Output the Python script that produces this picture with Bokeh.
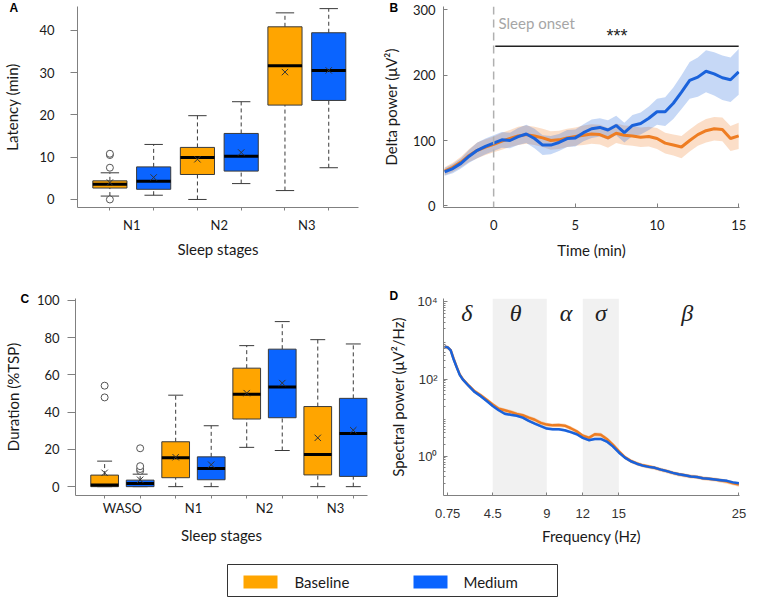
import numpy as np
from bokeh.plotting import figure
from bokeh.layouts import column, row
from bokeh.models import FixedTicker, Span, BoxAnnotation, ColumnDataSource, Title
from bokeh.core.properties import value
from bokeh.embed import file_html
from bokeh.resources import INLINE

FONT = "Lato"
NUMFONT = "Liberation Sans"
ORANGE = "#FFA500"
BLUE = "#0A64FF"
LORANGE = "#EE7D22"
LBLUE = "#1A62DB"
EDGE = "#3a3a3a"
AXIS = "#808080"
TXT = "#1a1a1a"

# ---------------- Panel A: latency (min) ----------------
lat_stages = ["N1", "N2", "N3"]
lat_base_low = [0.8, 0.0, 2.1]
lat_base_q1 = [2.7, 5.9, 22.3]
lat_base_med = [3.6, 9.9, 31.6]
lat_base_q3 = [4.4, 12.3, 40.8]
lat_base_high = [6.3, 19.8, 44.1]
lat_base_mean = [4.0, 9.5, 30.1]
lat_base_out = [[0.0, 7.5, 10.5, 10.8], [], []]
lat_med_low = [1.0, 3.75, 7.5]
lat_med_q1 = [2.4, 6.7, 23.4]
lat_med_med = [4.3, 10.2, 30.5]
lat_med_q3 = [7.7, 15.6, 39.4]
lat_med_high = [13.0, 23.1, 45.1]
lat_med_mean = [5.2, 11.1, 30.5]
lat_med_out = [[], [], []]

# ---------------- Panel C: duration (%TSP) ----------------
dur_stages = ["WASO", "N1", "N2", "N3"]
dur_base_low = [0.0, 0.0, 21.1, 0.0]
dur_base_q1 = [0.0, 4.8, 36.3, 6.3]
dur_base_med = [0.9, 15.5, 49.6, 17.3]
dur_base_q3 = [6.2, 24.1, 63.6, 43.0]
dur_base_high = [13.7, 49.1, 75.7, 78.9]
dur_base_mean = [7.4, 15.8, 50.2, 26.2]
dur_base_out = [[47.9, 54.2], [], [], []]
dur_med_low = [0.0, 0.0, 19.4, 0.0]
dur_med_q1 = [0.0, 3.7, 37.0, 5.5]
dur_med_med = [1.7, 9.7, 53.5, 28.5]
dur_med_q3 = [3.5, 16.0, 73.8, 47.4]
dur_med_high = [6.7, 32.7, 88.6, 76.6]
dur_med_mean = [3.7, 11.8, 55.6, 30.3]
dur_med_out = [[8.5, 9.5, 11.0, 20.6], [], [], []]

# ---------------- Panel B: delta power over time ----------------
time_min = [-3, -2.5, -2, -1.5, -1, -0.5, 0, 0.5, 1, 1.5, 2, 2.5, 3, 3.5, 4, 4.5, 5,
            5.5, 6, 6.5, 7, 7.5, 8, 8.5, 9, 9.5, 10, 10.5, 11, 11.5, 12, 12.5, 13,
            13.5, 14, 14.5, 15]
delta_base = [53, 59, 67, 77, 85, 90, 94, 99, 103, 107, 109, 107, 104, 100, 101, 104, 106,
              108, 110, 109, 104, 111, 108, 107, 105, 106, 103, 96, 93, 90, 100, 109, 115,
              118, 117, 103, 107]
delta_base_sem = [6, 7, 8, 10, 12, 12, 12, 13, 13, 14, 14, 14, 14, 14, 14, 14, 14,
                  15, 15, 15, 15, 15, 15, 15, 15, 15, 16, 16, 16, 17, 17, 17, 18,
                  18, 18, 19, 20]
delta_med = [52, 57, 65, 76, 85, 91, 96, 101, 100, 106, 110, 103, 93, 93, 97, 103, 104,
             112, 118, 120, 116, 123, 112, 123, 126, 134, 144, 144, 157, 174, 192, 197, 206,
             202, 196, 193, 205]
delta_med_sem = [6, 7, 8, 10, 12, 12, 12, 12, 12, 13, 14, 15, 15, 14, 13, 13, 13,
                 13, 14, 14, 15, 15, 15, 16, 17, 18, 20, 22, 24, 26, 28, 30, 32,
                 33, 34, 34, 35]
sig_start, sig_end, sig_level = 0.1, 15.0, 244

# ---------------- Panel D: spectral power ----------------
freq_hz = [0.5, 0.75, 1.0, 1.25, 1.5, 1.75, 2.0, 2.5, 3.0, 3.5, 4.0, 4.5, 5.0, 5.5, 6.0,
           6.5, 7.0, 7.5, 8.0, 8.5, 9.0, 9.5, 10.0, 10.5, 11.0, 11.5, 12.0, 12.5, 13.0,
           13.5, 14.0, 14.5, 15.0, 15.5, 16.0, 16.5, 17.0, 17.5, 18.0, 18.5, 19.0, 19.5,
           20.0, 20.5, 21.0, 21.5, 22.0, 22.5, 23.0, 23.5, 24.0, 24.5, 25.0]
spec_base = [690, 660, 560, 330, 205, 132, 100, 68, 48, 38, 29, 22, 17, 15.5, 14,
             12.5, 11.5, 10, 8.8, 7.3, 6.6, 6.3, 6.4, 6.2, 5.3, 4.4, 3.4, 3.0, 3.7,
             3.6, 2.8, 2.0, 1.35, 0.95, 0.76, 0.65, 0.58, 0.54, 0.5, 0.45, 0.41, 0.37,
             0.34, 0.32, 0.30, 0.29, 0.27, 0.26, 0.25, 0.235, 0.22, 0.2, 0.185]
spec_med = [690, 660, 550, 320, 200, 128, 98, 66, 46, 36, 27, 20, 15.5, 12.6, 11.8,
            11.2, 10, 8.2, 7, 6, 5.2, 5.0, 5.0, 4.7, 4.2, 3.7, 3.0, 2.6, 2.8,
            2.8, 2.4, 1.8, 1.25, 0.92, 0.74, 0.64, 0.57, 0.53, 0.5, 0.45, 0.41, 0.37,
            0.34, 0.32, 0.30, 0.29, 0.27, 0.26, 0.25, 0.24, 0.23, 0.21, 0.2]
spec_base_relerr = 0.12
spec_med_relerr = 0.08
band_names = ["δ", "θ", "α", "σ", "β"]
band_label_x = [2.35, 6.4, 10.6, 13.5, 20.7]
shaded_bands = [(4.5, 9.0), (12.0, 15.0)]

legend_names = ["Baseline", "Medium"]
panel_letters = ["A", "B", "C", "D"]


def mkfig(w, h, l, r, t, b, **kw):
    return figure(width=w, height=h, output_backend="svg", toolbar_location=None,
                  min_border_left=l, min_border_right=r, min_border_top=t,
                  min_border_bottom=b, **kw)


def style(p):
    p.outline_line_color = None
    p.grid.visible = False
    for ax in p.axis:
        ax.axis_line_color = AXIS
        ax.major_tick_line_color = AXIS
        ax.minor_tick_line_color = None
        ax.major_label_text_font = FONT
        ax.axis_label_text_font = FONT
        ax.axis_label_text_font_style = "normal"
        ax.major_label_text_color = TXT
        ax.axis_label_text_color = TXT
        ax.major_label_text_font_size = "13px"
        ax.axis_label_text_font_size = "15px"


def letter(p, txt, offset, standoff):
    p.title = Title(text=txt, align="left", offset=offset, standoff=standoff,
                    vertical_align="bottom", text_font=NUMFONT, text_font_style="bold",
                    text_font_size="12px", text_color="black")


def boxes(p, pos, low, q1, med, q3, high, mean, outs, color, w=0.39, capw=0.21):
    pos = np.asarray(pos, dtype=float)
    src = ColumnDataSource(dict(x=pos, xl=pos - w / 2, xr=pos + w / 2,
                                cl=pos - capw / 2, cr=pos + capw / 2,
                                low=low, q1=q1, med=med, q3=q3, high=high, mean=mean))
    p.segment(x0="x", y0="q3", x1="x", y1="high", source=src, line_color=EDGE,
              line_width=1, line_dash="4 3")
    p.segment(x0="x", y0="low", x1="x", y1="q1", source=src, line_color=EDGE,
              line_width=1, line_dash="4 3")
    p.segment(x0="cl", y0="high", x1="cr", y1="high", source=src, line_color=EDGE, line_width=1)
    p.segment(x0="cl", y0="low", x1="cr", y1="low", source=src, line_color=EDGE, line_width=1)
    p.quad(left="xl", right="xr", bottom="q1", top="q3", source=src, fill_color=color,
           line_color=EDGE, line_width=1)
    p.segment(x0="xl", y0="med", x1="xr", y1="med", source=src, line_color="black", line_width=3)
    p.scatter(x="x", y="mean", source=src, marker="x", size=9, line_color="#333333", line_width=1)
    ox = [pos[i] for i, o in enumerate(outs) for _ in o]
    oy = [v for o in outs for v in o]
    if ox:
        p.scatter(ox, oy, marker="circle", size=7, fill_color="white", line_color="#555555",
                  line_width=1)


def box_panel(stages, xr, yr, yticks, ylabel, data_b, data_m, dims, ytick, ystand, ylabstand,
              xstand, xlabstand):
    p = mkfig(*dims, x_range=xr, y_range=yr)
    style(p)
    idx = np.arange(1, len(stages) + 1)
    bx = idx - 0.25
    mx = idx + 0.25
    boxes(p, bx, *data_b, ORANGE)
    boxes(p, mx, *data_m, BLUE)
    p.xaxis.ticker = FixedTicker(ticks=list(idx), minor_ticks=sorted(list(bx) + list(mx)))
    p.xaxis.major_label_overrides = {int(i): s for i, s in zip(idx, stages)}
    p.xaxis.major_tick_out = 0
    p.xaxis.major_tick_in = 0
    p.xaxis.minor_tick_line_color = AXIS
    p.xaxis.minor_tick_out = 3
    p.xaxis.minor_tick_in = 0
    p.xaxis.major_label_standoff = xstand
    p.xaxis.axis_label = "Sleep stages"
    p.xaxis.axis_label_standoff = xlabstand
    p.yaxis.ticker = FixedTicker(ticks=yticks)
    p.yaxis.major_tick_out = ytick
    p.yaxis.major_tick_in = 0
    p.yaxis.major_label_standoff = ystand
    p.yaxis.axis_label = ylabel
    p.yaxis.axis_label_standoff = ylabstand
    return p


# ---- A
pA = box_panel(lat_stages, (0.38, 3.59), (-1.9, 45.6), [0, 10, 20, 30, 40], "Latency (min)",
               (lat_base_low, lat_base_q1, lat_base_med, lat_base_q3, lat_base_high,
                lat_base_mean, lat_base_out),
               (lat_med_low, lat_med_q1, lat_med_med, lat_med_q3, lat_med_high,
                lat_med_mean, lat_med_out),
               (376, 284, 65, 18, 4, 77), 7, 16, 15, 6, 4)
letter(pA, panel_letters[0], -68, -16)

# ---- C
pC = box_panel(dur_stages, (0.34, 4.45), (-4.75, 101), [0, 20, 40, 60, 80, 100],
               "Duration (%TSP)",
               (dur_base_low, dur_base_q1, dur_base_med, dur_base_q3, dur_base_high,
                dur_base_mean, dur_base_out),
               (dur_med_low, dur_med_q1, dur_med_med, dur_med_q3, dur_med_high,
                dur_med_mean, dur_med_out),
               (376, 279, 61, 9, 11, 68), 8, 8, 12, 1, 7)
letter(pC, panel_letters[2], -55, -14)

# ---- B
pB = mkfig(371, 284, 67, 8, 6, 76, x_range=(-3.07, 15.05), y_range=(-2.5, 305))
style(pB)
t = np.asarray(time_min, dtype=float)
db = np.asarray(delta_base, dtype=float)
dbs = np.asarray(delta_base_sem, dtype=float)
dm = np.asarray(delta_med, dtype=float)
dms = np.asarray(delta_med_sem, dtype=float)
pB.varea(x=t, y1=db - dbs, y2=db + dbs, fill_color=LORANGE, fill_alpha=0.25)
pB.varea(x=t, y1=dm - dms, y2=dm + dms, fill_color=LBLUE, fill_alpha=0.25)
pB.line(t, db, line_color=LORANGE, line_width=3)
pB.line(t, dm, line_color=LBLUE, line_width=3)
pB.add_layout(Span(location=0, dimension="height", line_color="#b0b0b0", line_width=1.5,
                   line_dash="8 5"))
pB.segment(x0=[sig_start], y0=[sig_level], x1=[sig_end], y1=[sig_level], line_color="#222222",
           line_width=1.5)
pB.text(x=[(sig_start + sig_end) / 2], y=[sig_level + 1], text=["***"], text_align="center",
        text_baseline="bottom", text_font=value(NUMFONT), text_font_size="18px",
        text_color="#222222")
pB.text(x=[0.3], y=[279], text=["Sleep onset"], text_align="left", text_baseline="middle",
        text_font=value(FONT), text_font_size="15px", text_color="#a6a6a6")
pB.xaxis.ticker = FixedTicker(ticks=[0, 5, 10, 15])
pB.yaxis.ticker = FixedTicker(ticks=[0, 100, 200, 300])
for ax in pB.axis:
    ax.major_tick_in = 4
    ax.major_tick_out = 0
pB.xaxis.major_label_standoff = 12
pB.yaxis.major_label_standoff = 8
pB.xaxis.axis_label = "Time (min)"
pB.yaxis.axis_label = "Delta power (μV²)"
pB.xaxis.axis_label_standoff = 8
pB.yaxis.axis_label_standoff = 10
letter(pB, panel_letters[1], -54, -16)

# ---- D
pD = mkfig(371, 279, 67, 8, 14, 64, x_range=(0.4, 25.05), y_range=(0.096, 12200),
           y_axis_type="log")
style(pD)
for lo, hi in shaded_bands:
    pD.add_layout(BoxAnnotation(left=lo, right=hi, fill_color="#f1f1f1", fill_alpha=1,
                                line_alpha=0, level="underlay"))
f = np.asarray(freq_hz, dtype=float)
sb = np.asarray(spec_base, dtype=float)
sm = np.asarray(spec_med, dtype=float)
pD.varea(x=f, y1=sb * (1 - spec_base_relerr), y2=sb * (1 + spec_base_relerr),
         fill_color=LORANGE, fill_alpha=0.3)
pD.varea(x=f, y1=sm * (1 - spec_med_relerr), y2=sm * (1 + spec_med_relerr),
         fill_color=LBLUE, fill_alpha=0.3)
pD.line(f, sb, line_color=LORANGE, line_width=2.5)
pD.line(f, sm, line_color=LBLUE, line_width=2.5)
pD.text(x=band_label_x, y=[5000] * len(band_names), text=band_names, text_align="center",
        text_baseline="middle", text_font=value("Liberation Serif"), text_font_style="italic",
        text_font_size="24px", text_color="#222222")
minor = [m * 10.0 ** k for k in range(-2, 5) for m in range(2, 10)]
pD.yaxis.ticker = FixedTicker(ticks=[1, 100, 10000], minor_ticks=minor)
pD.yaxis.major_label_overrides = {1: "10⁰", 100: "10²", 10000: "10⁴"}
pD.yaxis.minor_tick_line_color = AXIS
pD.yaxis.minor_tick_in = 2
pD.yaxis.minor_tick_out = 0
pD.yaxis.major_tick_in = 4
pD.yaxis.major_tick_out = 0
xt = [0.75, 4.5, 9, 12, 15, 25]
pD.xaxis.ticker = FixedTicker(ticks=xt)
pD.xaxis.major_label_overrides = {0.75: "0.75", 4.5: "4.5", 9: "9", 12: "12", 15: "15", 25: "25"}
pD.xaxis.major_tick_in = 3
pD.xaxis.major_tick_out = 0
for ax in pD.axis:
    ax.major_label_text_font = NUMFONT
    ax.major_label_text_font_size = "13px"
    ax.major_label_text_color = "#333333"
pD.xaxis.major_label_standoff = 13
pD.yaxis.major_label_standoff = 6
pD.xaxis.axis_label = "Frequency (Hz)"
pD.yaxis.axis_label = "Spectral power (μV²/Hz)"
pD.xaxis.axis_label_standoff = 6
pD.yaxis.axis_label_standoff = 7
letter(pD, panel_letters[3], -54, -8)

# ---- Legend strip
pL = mkfig(747, 34, 0, 0, 0, 0, x_range=(0, 747), y_range=(0, 34),
           x_axis_location=None, y_axis_location=None)
pL.outline_line_color = None
pL.grid.visible = False
pL.quad(left=[227], right=[557], bottom=[1], top=[33], fill_color=None, line_color="#333333",
        line_width=1)
pL.quad(left=[243, 413], right=[277, 447], bottom=[9, 9], top=[22, 22],
        fill_color=[ORANGE, BLUE], line_color=None)
pL.text(x=[294, 463], y=[15.5, 15.5], text=legend_names, text_baseline="middle",
        text_align="left", text_font=value(FONT), text_font_size="15px", text_color=TXT)

layout = column(row(pA, pB), row(pC, pD), pL)
open("out.html", "w").write(file_html(layout, INLINE))
